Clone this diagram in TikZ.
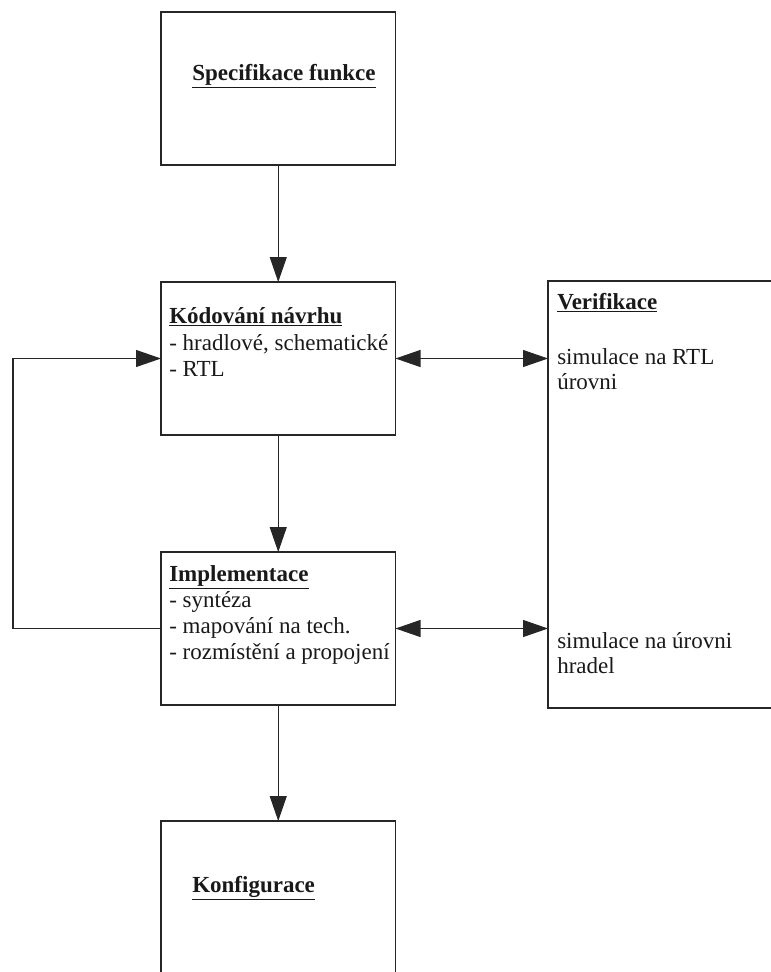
\documentclass[tikz,border=0pt]{standalone}
\usepackage{fontspec}
\setmainfont{Liberation Serif}
\usetikzlibrary{arrows.meta}
\begin{document}
\begin{tikzpicture}[x=0.75pt,y=-0.75pt,
  box/.style={draw=black!85, line width=0.8pt, rectangle, inner sep=0pt, outer sep=0pt, anchor=north west, minimum width=175.875pt},
  txt/.style={anchor=base west, inner sep=0pt, font=\fontsize{17.25}{19.5}\selectfont, text=black!90},
  tip/.tip={Triangle[length=18.75pt,width=12.75pt]},
  arr/.style={draw=black!85, line width=0.8pt, -tip},
  darr/.style={draw=black!85, line width=0.8pt, tip-tip}]
\useasboundingbox (0,0) rectangle (771,972);
\clip (0,0) rectangle (771,972);
% boxes
\node[box, minimum height=114.75pt] (spec) at (161,12) {};
\node[box, minimum height=114.75pt] (kod) at (161,282) {};
\node[box, minimum height=114.75pt] (impl) at (161,552) {};
\node[box, minimum height=150pt] (konf) at (161,821) {};
\node[box, minimum width=177.75pt, minimum height=320.25pt] (ver) at (548,281) {};
% texts
\node[txt] (tspec) at (192,80) {\textbf{\underline{Specifikace funkce}}};
\node[txt] (tkod1) at (169,323) {\textbf{\underline{Kódování návrhu}}};
\node[txt] (tkod2) at (169,350) {- hradlové, schematické};
\node[txt] (tkod3) at (169,376) {- RTL};
\node[txt] (timp1) at (169,581) {\textbf{\underline{Implementace}}};
\node[txt] (timp2) at (169,607) {- syntéza};
\node[txt] (timp3) at (169,633) {- mapování na tech.};
\node[txt] (timp4) at (169,659) {- rozmístění a propojení};
\node[txt] (tver1) at (557,309) {\textbf{\underline{Verifikace}}};
\node[txt] (tver2) at (557,364) {simulace na RTL};
\node[txt] (tver3) at (557,389) {úrovni};
\node[txt] (tver4) at (557,648) {simulace na úrovni};
\node[txt] (tver5) at (557,673) {hradel};
\node[txt] (tkonf) at (192,892) {\textbf{\underline{Konfigurace}}};
% connectors
\coordinate (lp) at (13,0);
\draw[arr] (spec.south) -- (kod.north);
\draw[arr] (kod.south) -- (impl.north);
\draw[arr] (impl.south) -- (konf.north);
\draw[darr] (kod.east) -- (kod.east -| ver.west);
\draw[darr] (impl.east) -- (impl.east -| ver.west);
\draw[arr] (impl.west) -- (impl.west -| lp) |- (kod.west);
\end{tikzpicture}
\end{document}
